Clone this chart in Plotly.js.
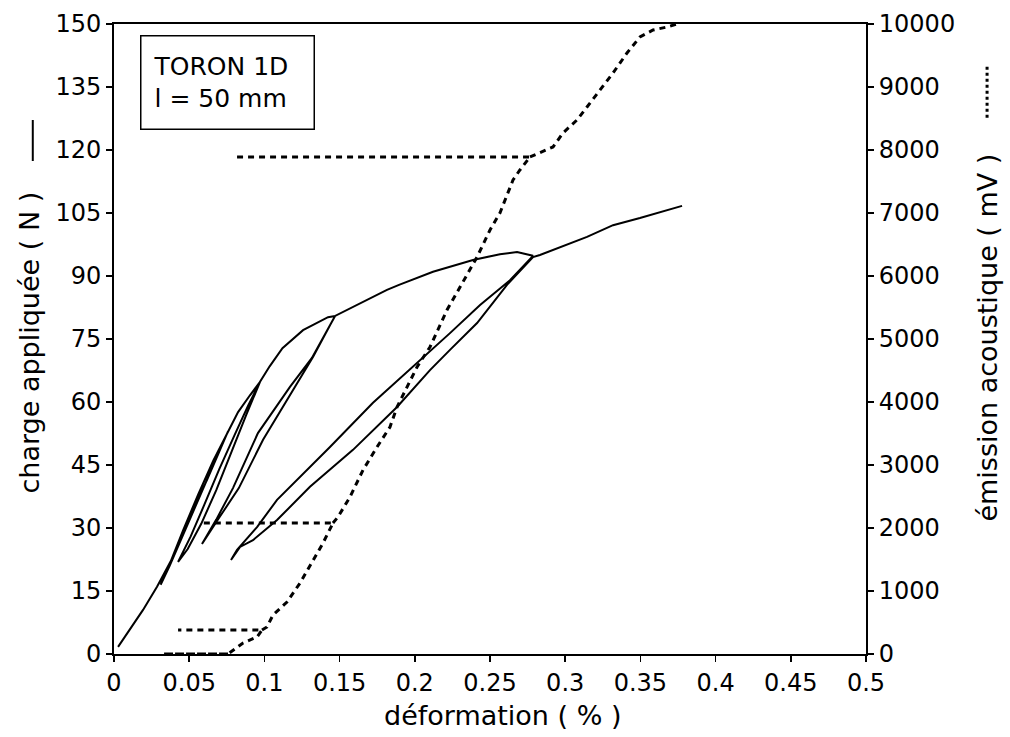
<!DOCTYPE html>
<html>
<head>
<meta charset="utf-8">
<script src="https://cdn.plot.ly/plotly-3.0.1.min.js"></script>
<style>html,body{margin:0;padding:0;background:#fff;}#chart{width:1010px;height:737px;}</style>
</head>
<body>
<div id="chart"></div>
<script>
// charge appliquée (N) vs déformation (%) : loading / unloading cycles
const chargeStrain = [
  0.0027, 0.0193, 0.0286, 0.0392, 0.0492, 0.0618, 0.0705, 0.0758,
  0.066, 0.056, 0.046, 0.037, 0.031,
  0.036, 0.046, 0.056, 0.066, 0.0758,
  0.0825, 0.0904, 0.0971,
  0.088, 0.078, 0.068, 0.058, 0.049, 0.0426,
  0.051, 0.060, 0.070, 0.080, 0.089, 0.0971,
  0.1035, 0.112, 0.1257, 0.1423, 0.147,
  0.1316, 0.117, 0.0957, 0.0791, 0.0680, 0.0585,
  0.0700, 0.0830, 0.0991, 0.119, 0.1323, 0.147,
  0.1815, 0.1895, 0.2121, 0.2387, 0.2566, 0.268, 0.2746, 0.2786,
  0.2633, 0.2434, 0.2234, 0.2035, 0.1722, 0.1436, 0.1303, 0.1084, 0.0951, 0.0818, 0.0778,
  0.0838, 0.0924, 0.1084, 0.1303, 0.1589, 0.1882, 0.2101, 0.2234, 0.2414, 0.2613, 0.2786,
  0.2832, 0.2965, 0.3145, 0.3318, 0.3497, 0.3777
];
const chargeLoad = [
  1.7, 10.5, 16.0, 23.1, 31.9, 41.4, 48.6, 53.0,
  45.0, 37.0, 28.5, 21.0, 16.5,
  20.5, 29.5, 38.0, 46.0, 53.0,
  57.6, 61.6, 64.8,
  57.0, 48.0, 39.0, 31.0, 25.0, 21.9,
  28.0, 35.5, 44.0, 52.0, 59.0, 64.8,
  68.5, 72.8, 77.1, 80.2, 80.5,
  70.5, 63.6, 52.6, 39.5, 32.0, 26.2,
  32.5, 39.5, 51.0, 62.9, 70.7, 80.5,
  86.7, 87.9, 91.0, 93.8, 95.2, 95.7, 95.2, 94.8,
  89.0, 83.1, 76.4, 70.0, 59.8, 49.3, 44.5, 36.7, 30.2, 24.8, 22.4,
  25.5, 27.1, 31.9, 39.8, 48.6, 58.8, 67.6, 72.4, 78.8, 87.9, 94.5,
  95.0, 96.9, 99.3, 102.1, 103.8, 106.7
];

// émission acoustique (mV) vs déformation (%); null = pen lift after a plateau
const aeStrain = [
  0.0758, 0.0326, 0.0758, 0.0858, 0.0951, 0.0984, 0.0426, null, 0.0984,
  0.1017, 0.1057, 0.115, 0.1237, 0.1323, 0.139, 0.1456, 0.0572, null, 0.1456,
  0.1489, 0.1569, 0.1656, 0.1749, 0.1835, 0.1882, 0.2015, 0.2101, 0.2214,
  0.2301, 0.2414, 0.25, 0.2566, 0.2653, 0.2699, 0.2766, 0.0791, null, 0.2766,
  0.2919, 0.2985, 0.3078, 0.3145, 0.3231, 0.3318, 0.3411, 0.3497, 0.3584, 0.3677, 0.3743
];
const aeValue = [
  0, 0, 0, 175, 270, 381, 381, null, 381,
  429, 619, 825, 1127, 1492, 1762, 2079, 2079, null, 2079,
  2175, 2492, 2921, 3286, 3603, 3921, 4556, 4873, 5460,
  5825, 6302, 6730, 7000, 7524, 7683, 7889, 7889, null, 7889,
  8048, 8270, 8476, 8683, 8952, 9222, 9540, 9794, 9905, 9952, 10000
];

const xTitle = "déformation ( % )";
const yTitle = "charge appliquée ( N )";
const y2Title = "émission acoustique ( mV )";
const boxText = "TORON 1D<br>l = 50 mm";

const FONT = "DejaVu Sans, Arial, sans-serif";

const traces = [
  {
    x: chargeStrain, y: chargeLoad, type: "scatter", mode: "lines",
    line: {color: "#000", width: 2},
    yaxis: "y", showlegend: false, hoverinfo: "skip"
  },
  {
    x: aeStrain, y: aeValue, type: "scatter", mode: "lines", connectgaps: false,
    line: {color: "#000", width: 3, dash: "6px,5px"},
    yaxis: "y2", showlegend: false, hoverinfo: "skip"
  }
];

const axisCommon = {
  showgrid: false, zeroline: false, showline: true,
  linecolor: "#000", linewidth: 2,
  ticks: "outside", ticklen: 6, tickwidth: 1.5, tickcolor: "#000",
  tickfont: {family: FONT, size: 24, color: "#000"}
};

const layout = {
  width: 1010, height: 737,
  margin: {l: 114, r: 144, t: 24, b: 83, pad: 0},
  paper_bgcolor: "#fff", plot_bgcolor: "#fff",
  font: {family: FONT, color: "#000"},
  xaxis: Object.assign({}, axisCommon, {
    range: [0, 0.5], tick0: 0, dtick: 0.05, mirror: true
  }),
  yaxis: Object.assign({}, axisCommon, {
    range: [0, 150], tick0: 0, dtick: 15
  }),
  yaxis2: Object.assign({}, axisCommon, {
    range: [0, 10000], tick0: 0, dtick: 1000, overlaying: "y", side: "right",
    tickformat: "d", exponentformat: "none"
  }),
  annotations: [
    {text: xTitle, xref: "paper", yref: "paper", x: 0.517, y: -0.097,
     xanchor: "center", yanchor: "middle", showarrow: false,
     font: {family: FONT, size: 27, color: "#000"}},
    {text: yTitle, xref: "paper", yref: "paper", x: -0.112, y: 0.494, textangle: -90,
     xanchor: "center", yanchor: "middle", showarrow: false,
     font: {family: FONT, size: 27, color: "#000"}},
    {text: y2Title, xref: "paper", yref: "paper", x: 1.162, y: 0.502, textangle: -90,
     xanchor: "center", yanchor: "middle", showarrow: false,
     font: {family: FONT, size: 27, color: "#000"}},
    {text: boxText, xref: "paper", yref: "paper", x: 0.151, y: 0.907,
     xanchor: "center", yanchor: "middle", showarrow: false, align: "left",
     width: 148, height: 68, borderpad: 12, bordercolor: "#000", borderwidth: 1.5,
     bgcolor: "#fff",
     font: {family: FONT, size: 25, color: "#000"}}
  ],
  shapes: [
    {type: "line", xref: "paper", yref: "paper", x0: -0.108, x1: -0.108, y0: 0.7825, y1: 0.8476,
     line: {color: "#000", width: 2}},
    {type: "line", xref: "paper", yref: "paper", x0: 1.161, x1: 1.161, y0: 0.851, y1: 0.9365,
     line: {color: "#000", width: 3, dash: "dot"}}
  ]
};

Plotly.newPlot("chart", traces, layout, {displayModeBar: false, staticPlot: true});
</script>
</body>
</html>
